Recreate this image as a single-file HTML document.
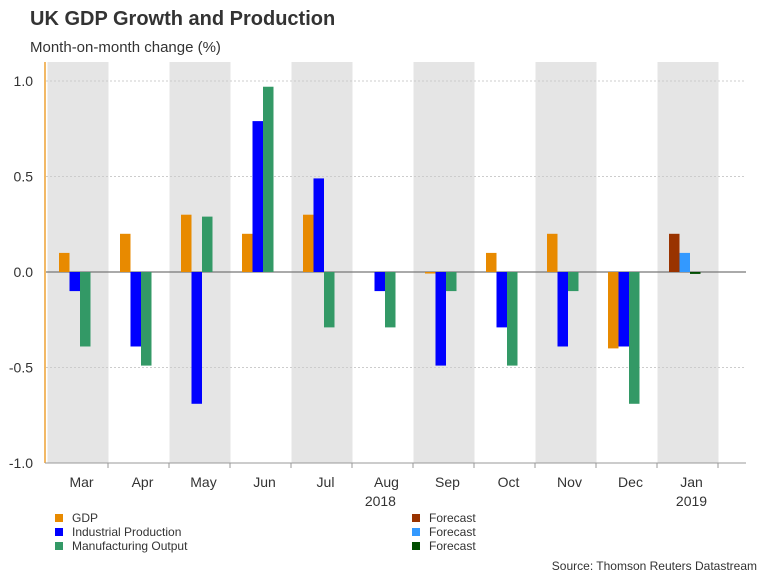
<!DOCTYPE html>
<html><head><meta charset="utf-8"><style>
body{margin:0;background:#fff;font-family:"Liberation Sans",sans-serif;}
#wrap{position:relative;width:768px;height:576px;overflow:hidden;}
</style></head><body>
<div id="wrap">
<svg id="svg" width="768" height="576" xmlns="http://www.w3.org/2000/svg">
<text x="30" y="25" font-size="20" font-weight="bold" fill="#333">UK GDP Growth and Production</text>
<text x="30" y="52" font-size="15" fill="#333">Month-on-month change (%)</text>
<g id="bands"></g><g id="grid"></g><g id="bars"></g><g id="axes"></g><g id="legend"></g>
<text x="757" y="570" font-size="12" fill="#333" text-anchor="end">Source: Thomson Reuters Datastream</text>
</svg>
</div>
<script>
const categories=["Mar","Apr","May","Jun","Jul","Aug","Sep","Oct","Nov","Dec","Jan"];
const gdp=[0.1,0.2,0.3,0.2,0.3,0,-0.005,0.1,0.2,-0.4,null];
const industrial=[-0.1,-0.39,-0.69,0.79,0.49,-0.1,-0.49,-0.29,-0.39,-0.39,null];
const manufacturing=[-0.39,-0.49,0.29,0.97,-0.29,-0.29,-0.1,-0.49,-0.1,-0.69,null];
const gdpForecast=[null,null,null,null,null,null,null,null,null,null,0.2];
const ipForecast=[null,null,null,null,null,null,null,null,null,null,0.1];
const moForecast=[null,null,null,null,null,null,null,null,null,null,-0.01];
const yTicks=[1.0,0.5,0.0,-0.5,-1.0];
const yTickLabels=["1.0","0.5","0.0","-0.5","-1.0"];
const yearLabels=[["2018",4.9],["2019",10]];

const NS="http://www.w3.org/2000/svg";
const X0=47,W=61,Y0=272,YS=191,BW=10.5;
const xc=i=>X0+i*W;
const y=v=>Y0-v*YS;
function mk(p,t,a){const e=document.createElementNS(NS,t);for(const k in a)e.setAttribute(k,a[k]);document.getElementById(p).appendChild(e);return e;}
categories.forEach((c,i)=>{
 if(i%2===0){const r=mk('bands','rect',{x:xc(i)+0.5,y:62,width:W,height:y(-1)-62,fill:'#e5e5e5'});
 
 }
 const t=mk('axes','text',{x:xc(i)+W/2+4,y:487,'font-size':14,fill:'#333','text-anchor':'middle'});t.textContent=c;
 
 
 const tk=mk('axes','line',{x1:xc(i+1),x2:xc(i+1),y1:y(-1),y2:y(-1)+5,stroke:'#999'});
 
 
});
yTicks.forEach((v,i)=>{
 const g=mk('grid','line',{x1:46,x2:746,y1:y(v),y2:y(v),stroke:v===0?'#777':'#ccc','stroke-dasharray':v===0?'':'2,2','stroke-width':v===0?1.2:1});
 
 
 const t=mk('axes','text',{x:33,y:y(v)+5,'font-size':14,fill:'#333','text-anchor':'end'});t.textContent=yTickLabels[i];
 
 
});
const yl=mk('axes','line',{x1:45,x2:45,y1:62,y2:y(-1),stroke:'#e88a00','stroke-width':1.2});


const xl=mk('axes','line',{x1:45,x2:746,y1:y(-1),y2:y(-1),stroke:'#999'});


yearLabels.forEach(([s,p])=>{const t=mk('axes','text',{x:xc(p)+W/2+4,y:506,'font-size':14,fill:'#333','text-anchor':'middle'});t.textContent=s;
 
 });
const series=[[gdp,'#e88a00',0,'gdp'],[industrial,'#0000ff',1,'industrial'],[manufacturing,'#339966',2,'manufacturing'],
[gdpForecast,'#993300',0,'gdp-forecast'],[ipForecast,'#3399ff',1,'ip-forecast'],[moForecast,'#004d00',2,'mo-forecast']];
series.forEach(([arr,col,k,nm])=>{arr.forEach((v,i)=>{if(v===null||v===0)return;
 const x=xc(i)+12+k*BW;const top=Math.min(y(v),Y0),h=Math.max(Math.abs(y(v)-Y0),1.5);
 const r=mk('bars','rect',{x:x,y:top,width:BW,height:h,fill:col});
 
 });});
const leg=[["GDP",'#e88a00',55,514],["Industrial Production",'#0000ff',55,528],["Manufacturing Output",'#339966',55,542],
["Forecast",'#993300',412,514],["Forecast",'#3399ff',412,528],["Forecast",'#004d00',412,542]];
leg.forEach(([s,c,x,yy])=>{const r=mk('legend','rect',{x:x,y:yy,width:8,height:8,fill:c});
 
 
 const t=mk('legend','text',{x:x+17,y:yy+8,'font-size':12,fill:'#333'});t.textContent=s;
 
 });
</script>
</body></html>
